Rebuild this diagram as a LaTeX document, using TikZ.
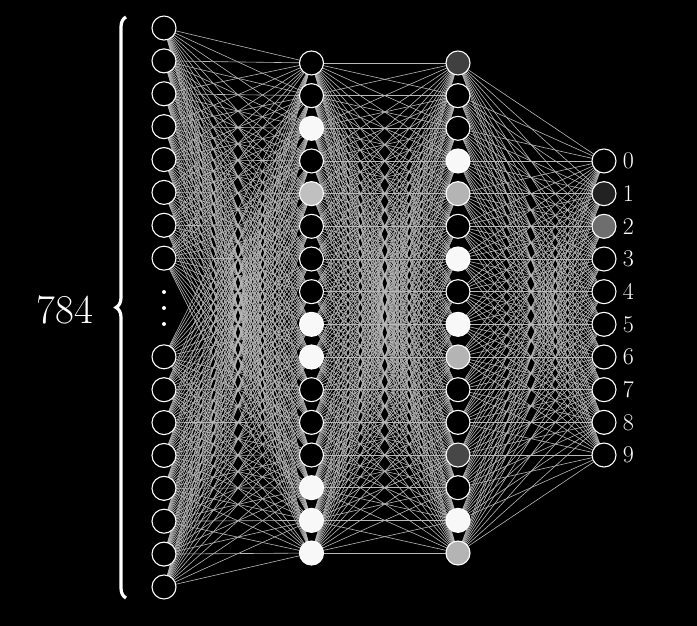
\documentclass[tikz,border=0pt]{standalone}
\usetikzlibrary{decorations.pathreplacing}
\begin{document}
\begin{tikzpicture}[x=1pt,y=-1pt,
  neuron/.style={circle,draw=white,line width=1.1pt,minimum size=24pt,inner sep=0pt},
  edge/.style={draw={rgb,255:red,185;green,185;blue,185},line width=0.6pt},
  lab/.style={text=white,anchor=west,inner sep=0pt,font=\fontsize{24}{24}\selectfont}]
\fill[black] (0,0) rectangle (697,626);
\useasboundingbox (0,0) rectangle (697,626);
% input layer coordinates
\foreach \j [count=\n] in {0,1,2,3,4,5,6,7,10,11,12,13,14,15,16,17}
  \coordinate (a\n) at (164,{307.5+(\j-8.5)*32.88});
\foreach \i in {1,...,16}{
  \coordinate (b\i) at (311.5,{308+(\i-8.5)*32.67});
  \coordinate (c\i) at (458,{308+(\i-8.5)*32.67});
}
\foreach \k in {1,...,10}
  \coordinate (d\k) at (604,{308+(\k-5.5)*32.67});
% edges
\foreach \p in {1,...,16}{
  \foreach \q in {1,...,16}{
    \draw[edge] (a\p) -- (b\q);
    \draw[edge] (b\p) -- (c\q);
  }
  \foreach \q in {1,...,10}
    \draw[edge] (c\p) -- (d\q);
}
% input neurons
\foreach \n in {1,...,16}
  \node[neuron,fill=black] (na\n) at (a\n) {};
% hidden 1
\foreach \col [count=\i] in {000000,000000,F8F8F8,000000,C0C0C0,000000,000000,000000,F8F8F8,F8F8F8,000000,000000,000000,F8F8F8,F8F8F8,F8F8F8}{
  \definecolor{fc}{HTML}{\col}
  \node[neuron,fill=fc] (nb\i) at (b\i) {};
}
% hidden 2
\foreach \col [count=\i] in {404040,000000,000000,F8F8F8,B4B4B4,000000,F8F8F8,000000,F8F8F8,B4B4B4,000000,000000,474747,000000,F8F8F8,B4B4B4}{
  \definecolor{fc}{HTML}{\col}
  \node[neuron,fill=fc] (nc\i) at (c\i) {};
}
% output
\foreach \col [count=\k] in {000000,222222,6E6E6E,000000,000000,000000,000000,000000,000000,000000}{
  \definecolor{fc}{HTML}{\col}
  \node[neuron,fill=fc] (nd\k) at (d\k) {};
}
\foreach \k [evaluate=\k as \lbl using int(\k-1)] in {1,...,10}
  \node[lab] (l\k) at ([xshift=6pt]nd\k.east) {\lbl};
% dots
\foreach \yy [count=\m] in {292,308,324}
  \fill[white] (164,\yy) circle (2pt) coordinate (dot\m);
% brace
\coordinate (bb) at (126,598);
\coordinate (bt) at (126,17);
\draw[white,line width=3.2pt,decorate,decoration={brace,amplitude=10pt}] (bb) -- (bt);
\node[text=white,inner sep=0pt,font=\fontsize{41}{41}\selectfont] (n784) at (65,310) {784};
\end{tikzpicture}
\end{document}
